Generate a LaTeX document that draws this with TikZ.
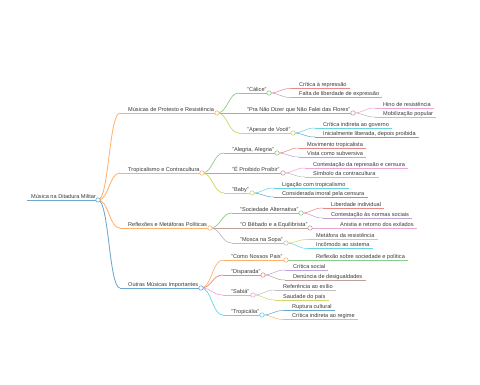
\documentclass[tikz,border=0pt]{standalone}
\usepackage{fontspec}
\setmainfont{Liberation Sans}
\usetikzlibrary{calc}
\definecolor{c0}{HTML}{1F77B4}
\definecolor{c1}{HTML}{FF7F0E}
\definecolor{c2}{HTML}{2CA02C}
\definecolor{c3}{HTML}{D62728}
\definecolor{c4}{HTML}{9467BD}
\definecolor{c5}{HTML}{8C564B}
\definecolor{c6}{HTML}{E377C2}
\definecolor{c7}{HTML}{7F7F7F}
\definecolor{c8}{HTML}{BCBD22}
\definecolor{c9}{HTML}{17BECF}
\definecolor{txtc}{HTML}{3A3A3A}
\tikzset{
  lbl/.style={inner sep=0pt, text=txtc, font=\fontsize{5.6pt}{6.7pt}\selectfont},
  lvA/.style={line width=0.85pt},
  lvB/.style={line width=0.7pt},
  lvC/.style={line width=0.55pt},
  dot/.style={circle, fill=white, line width=0.6pt, minimum size=4.4pt, inner sep=0pt},
  k0/.style={draw=c0!65}, k1/.style={draw=c1!60}, k2/.style={draw=c2!55},
  k3/.style={draw=c3!55}, k4/.style={draw=c4!60}, k5/.style={draw=c5!55},
  k6/.style={draw=c6!65}, k7/.style={draw=c7!50}, k8/.style={draw=c8!65},
  k9/.style={draw=c9!65}
}
% branch: name, parent, style, Sx, Ex, y, text
\newcommand\mmbranch[7]{%
  \coordinate (#1S) at (#4,#6);
  \coordinate (#1E) at (#5,#6);
  \node[lbl,anchor=base west] (#1) at ($(#1S)+(8,-2)$) {#7};
  \draw[#3] (#2E) .. controls ($(#2E)+(11,0)$) and ($(#1S)+(-11,0)$) .. (#1S);
  \draw[#3] (#1S) -- (#1E);
}
% leaf: name, parent, style, Sx, y, text
\newcommand\mmleaf[6]{%
  \coordinate (#1S) at (#4,#5);
  \node[lbl,anchor=base west] (#1) at ($(#1S)+(8,-2)$) {#6};
  \coordinate (#1E) at ($(#1S -| #1.east)+(3,0)$);
  \draw[#3] (#2E) .. controls ($(#2E)+(11,0)$) and ($(#1S)+(-11,0)$) .. (#1S);
  \draw[#3] (#1S) -- (#1E);
}
\begin{document}
\begin{tikzpicture}[x=1pt,y=-1pt]
\useasboundingbox (0,0) rectangle (480,384);
% root
\coordinate (rootS) at (27,200);
\coordinate (rootE) at (98,200);
\node[lbl,anchor=base west] (root) at (31,198) {Música na Ditadura Militar};
\draw[k0,line width=1pt] (rootS) -- (rootE);
% level 1
\mmbranch{P}{root}{k1,lvA}{120}{217}{113}{Músicas de Protesto e Resistência}
\mmbranch{T}{root}{k1,lvA}{120}{202}{173}{Tropicalismo e Contracultura}
\mmbranch{R}{root}{k1,lvA}{120}{210}{228}{Reflexões e Metáforas Políticas}
\mmbranch{O}{root}{k0,lvA}{120}{201}{288}{Outras Músicas Importantes}
% level 2
\mmbranch{Pa}{P}{k2,lvB}{239}{269}{93}{"Cálice"}
\mmbranch{Pb}{P}{k5,lvB}{239}{353}{113}{"Pra Não Dizer que Não Falei das Flores"}
\mmbranch{Pc}{P}{k8,lvB}{239}{293}{133}{"Apesar de Você"}
\mmbranch{Ta}{T}{k2,lvB}{224}{277}{153}{"Alegria, Alegria"}
\mmbranch{Tb}{T}{k5,lvB}{224}{283}{173}{"É Proibido Proibir"}
\mmbranch{Tc}{T}{k8,lvB}{224}{252}{193}{"Baby"}
\mmbranch{Ra}{R}{k2,lvB}{232}{301}{213}{"Sociedade Alternativa"}
\mmbranch{Rb}{R}{k5,lvB}{232}{310}{228}{"O Bêbado e a Equilibrista"}
\mmbranch{Rc}{R}{k7,lvB}{232}{286}{243}{"Mosca na Sopa"}
\mmbranch{Oa}{O}{k1,lvB}{223}{286}{260}{"Como Nossos Pais"}
\mmbranch{Ob}{O}{k3,lvB}{223}{263}{275}{"Disparada"}
\mmbranch{Oc}{O}{k6,lvB}{223}{253}{295}{"Sabiá"}
\mmbranch{Od}{O}{k9,lvB}{223}{262}{315}{"Tropicália"}
% level 3
\mmleaf{Pa1}{Pa}{k3,lvC}{291}{88.5}{Crítica à repressão}
\mmleaf{Pa2}{Pa}{k4,lvC}{291}{97.5}{Falta de liberdade de expressão}
\mmleaf{Pb1}{Pb}{k6,lvC}{375}{108}{Hino de resistência}
\mmleaf{Pb2}{Pb}{k7,lvC}{375}{117}{Mobilização popular}
\mmleaf{Pc1}{Pc}{k9,lvC}{315}{128}{Crítica indireta ao governo}
\mmleaf{Pc2}{Pc}{k0,lvC}{315}{137}{Inicialmente liberada, depois proibida}
\mmleaf{Ta1}{Ta}{k3,lvC}{299}{148}{Movimento tropicalista}
\mmleaf{Ta2}{Ta}{k4,lvC}{299}{157}{Vista como subversiva}
\mmleaf{Tb1}{Tb}{k6,lvC}{305}{168}{Contestação da repressão e censura}
\mmleaf{Tb2}{Tb}{k7,lvC}{305}{177}{Símbolo da contracultura}
\mmleaf{Tc1}{Tc}{k9,lvC}{274}{188}{Ligação com tropicalismo}
\mmleaf{Tc2}{Tc}{k0,lvC}{274}{197}{Considerada imoral pela censura}
\mmleaf{Ra1}{Ra}{k3,lvC}{323}{208}{Liberdade individual}
\mmleaf{Ra2}{Ra}{k4,lvC}{323}{218}{Contestação às normas sociais}
\mmleaf{Rb1}{Rb}{k6,lvC}{332}{228}{Anistia e retorno dos exilados}
\mmleaf{Rc1}{Rc}{k8,lvC}{308}{239.5}{Metáfora da resistência}
\mmleaf{Rc2}{Rc}{k9,lvC}{308}{248.5}{Incômodo ao sistema}
\mmleaf{Oa1}{Oa}{k2,lvC}{308}{260}{Reflexão sobre sociedade e política}
\mmleaf{Ob1}{Ob}{k4,lvC}{285}{270}{Crítica social}
\mmleaf{Ob2}{Ob}{k5,lvC}{285}{280}{Denúncia de desigualdades}
\mmleaf{Oc1}{Oc}{k7,lvC}{275}{290}{Referência ao exílio}
\mmleaf{Oc2}{Oc}{k8,lvC}{275}{300}{Saudade do país}
\mmleaf{Od1}{Od}{k0,lvC}{284}{310.5}{Ruptura cultural}
\mmleaf{Od2}{Od}{k1,lvC}{284}{319.5}{Crítica indireta ao regime}
% circles
\node[dot,k0] (rootC) at (rootE) {};
\node[dot,k1] (PC) at (PE) {};
\node[dot,k1] (TC) at (TE) {};
\node[dot,k1] (RC) at (RE) {};
\node[dot,k0] (OC) at (OE) {};
\node[dot,k2] (PaC) at (PaE) {};
\node[dot,k5] (PbC) at (PbE) {};
\node[dot,k8] (PcC) at (PcE) {};
\node[dot,k2] (TaC) at (TaE) {};
\node[dot,k5] (TbC) at (TbE) {};
\node[dot,k8] (TcC) at (TcE) {};
\node[dot,k2] (RaC) at (RaE) {};
\node[dot,k5] (RbC) at (RbE) {};
\node[dot,k7] (RcC) at (RcE) {};
\node[dot,k1] (OaC) at (OaE) {};
\node[dot,k3] (ObC) at (ObE) {};
\node[dot,k6] (OcC) at (OcE) {};
\node[dot,k9] (OdC) at (OdE) {};
\end{tikzpicture}
\end{document}
